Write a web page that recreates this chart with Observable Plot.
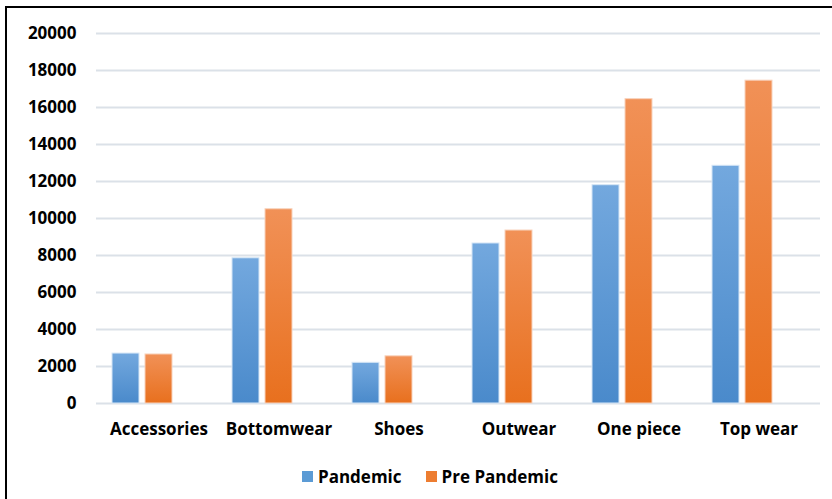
<!DOCTYPE html>
<html>
<head>
<meta charset="utf-8">
<script src="https://cdn.jsdelivr.net/npm/d3@7"></script>
<script src="https://cdn.jsdelivr.net/npm/@observablehq/plot@0.6"></script>
<style>
  html, body { margin: 0; padding: 0; background: #fff; }
  #wrap { position: relative; width: 832px; height: 499px; overflow: hidden; font-family: "Open Sans", sans-serif; }
  #frame { position: absolute; left: 5px; top: 6px; width: 900px; height: 600px; border-left: 2px solid #000; border-top: 2px solid #000; pointer-events: none; }
  #chart { position: absolute; left: 0; top: 0; }
  #legend { position: absolute; left: 302px; top: 465px; display: flex; align-items: center; font-weight: 700; font-size: 17px; color: #000; }
  .item { display: flex; align-items: center; margin-right: 24px; }
  .sw { width: 11px; height: 11px; margin-right: 5px; }
</style>
</head>
<body>
<div id="wrap">
  <div id="chart"></div>
  <div id="frame"></div>
  <div id="legend"></div>
</div>
<script>
const categories = ["Accessories", "Bottomwear", "Shoes", "Outwear", "One piece", "Top wear"];
const pandemic = [2700, 7850, 2200, 8650, 11800, 12850];
const prePandemic = [2650, 10500, 2550, 9350, 16450, 17450];
const seriesNames = ["Pandemic", "Pre Pandemic"];
const yTicks = [0, 2000, 4000, 6000, 8000, 10000, 12000, 14000, 16000, 18000, 20000];
const seriesColors = ["#5b9bd5", "#ed7d31"];

const pandemicRows = categories.map((c, i) => ({category: c, series: seriesNames[0], value: pandemic[i]}));
const preRows = categories.map((c, i) => ({category: c, series: seriesNames[1], value: prePandemic[i]}));

const defs = () => {
  const d = d3.create("svg:defs");
  const g1 = d.append("linearGradient").attr("id", "gBlue").attr("x1", 0).attr("y1", 0).attr("x2", 0).attr("y2", 1);
  g1.append("stop").attr("offset", "0%").attr("stop-color", "#73a8de");
  g1.append("stop").attr("offset", "100%").attr("stop-color", "#4a8acb");
  const g2 = d.append("linearGradient").attr("id", "gOrange").attr("x1", 0).attr("y1", 0).attr("x2", 0).attr("y2", 1);
  g2.append("stop").attr("offset", "0%").attr("stop-color", "#f19157");
  g2.append("stop").attr("offset", "100%").attr("stop-color", "#e8701e");
  return d.node();
};

const plot = Plot.plot({
  width: 832,
  height: 450,
  marginTop: 33,
  marginBottom: 47,
  marginLeft: 96,
  marginRight: 12,
  style: {fontFamily: "'Open Sans', sans-serif", fontSize: "17px", fontWeight: 700, color: "#000", background: "transparent"},
  x: {domain: categories, paddingInner: 0.229, paddingOuter: 0.1145, label: null},
  y: {domain: [0, 20000], label: null},
  marks: [
    defs,
    Plot.gridY(yTicks, {stroke: "#dbe1e8", strokeOpacity: 1, strokeWidth: 2}),
    Plot.barY(pandemicRows, {x: "category", y: "value", fill: "url(#gBlue)", insetLeft: 0, insetRight: 66, stroke: "#d6e6f6", strokeWidth: 1}),
    Plot.barY(preRows, {x: "category", y: "value", fill: "url(#gOrange)", insetLeft: 33, insetRight: 33, stroke: "#f8d2bb", strokeWidth: 1}),
    Plot.axisY(yTicks, {tickSize: 0, tickPadding: 20, tickFormat: d => String(d), fill: "#000", fontWeight: 700, fontSize: 17}),
    Plot.axisX({tickSize: 0, tickPadding: 19, fill: "#000", fontWeight: 700, fontSize: 17, label: null})
  ]
});
document.getElementById("chart").appendChild(plot);

const legend = document.getElementById("legend");
seriesNames.forEach((name, i) => {
  const item = document.createElement("div");
  item.className = "item";
  const sw = document.createElement("div");
  sw.className = "sw";
  sw.style.background = seriesColors[i];
  const label = document.createElement("span");
  label.textContent = name;
  item.appendChild(sw);
  item.appendChild(label);
  legend.appendChild(item);
});
</script>
</body>
</html>
